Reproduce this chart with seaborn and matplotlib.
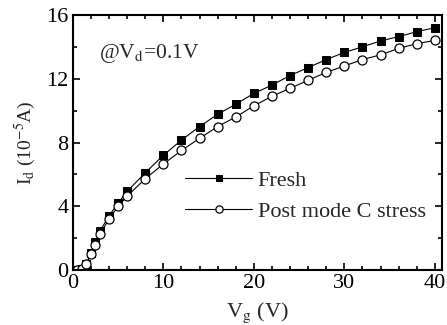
import matplotlib
matplotlib.use('Agg')
import matplotlib.pyplot as plt
import seaborn as sns
import pandas as pd
from matplotlib.ticker import MultipleLocator

# gate voltage (V) and drain current (1e-5 A)
vg = [0.5, 1, 1.5, 2, 2.5, 3, 4, 5, 6, 8, 10, 12, 14, 16, 18, 20,
      22, 24, 26, 28, 30, 32, 34, 36, 38, 40]
id_fresh = [0.0, 0.05, 0.4, 1.1, 1.75, 2.45, 3.4, 4.2, 4.94, 6.1, 7.2, 8.15,
            9.0, 9.77, 10.4, 11.08, 11.6, 12.2, 12.7, 13.2, 13.65, 14.0,
            14.37, 14.64, 14.95, 15.2]
id_post = [0.0, 0.05, 0.37, 1.0, 1.6, 2.26, 3.2, 4.0, 4.64, 5.73, 6.65, 7.5,
           8.26, 9.0, 9.6, 10.3, 10.9, 11.4, 11.9, 12.4, 12.8, 13.2, 13.5,
           13.9, 14.2, 14.4]

df = pd.DataFrame({'Vg': vg, 'Fresh': id_fresh, 'Post': id_post})

sns.set_style('ticks')
plt.rcParams['font.family'] = ['Liberation Serif', 'DejaVu Serif']
plt.rcParams['mathtext.fontset'] = 'stix'

fig = plt.figure(figsize=(4.47, 3.25), dpi=100)
ax = fig.add_axes([0.163, 0.169, 0.826, 0.785])

sns.lineplot(data=df, x='Vg', y='Fresh', ax=ax, color='k', lw=0.8,
             marker='s', markersize=6, markerfacecolor='k',
             markeredgecolor='k', label='Fresh')
sns.lineplot(data=df, x='Vg', y='Post', ax=ax, color='k', lw=0.8,
             marker='o', markersize=6.5, markerfacecolor='white',
             markeredgecolor='k', markeredgewidth=0.9,
             label='Post mode C stress')

ax.set_xlim(0, 40.8)
ax.set_ylim(0, 16)
ax.xaxis.set_major_locator(MultipleLocator(10))
ax.xaxis.set_minor_locator(MultipleLocator(2))
ax.yaxis.set_major_locator(MultipleLocator(4))
ax.yaxis.set_minor_locator(MultipleLocator(2))
ax.tick_params(which='both', direction='in', top=True, right=True,
               width=1.2, labelsize=16, colors='k')
ax.tick_params(which='major', length=5, pad=3)
ax.tick_params(which='minor', length=3)
for s in ax.spines.values():
    s.set_linewidth(1.5)
    s.set_color('k')

ax.set_xlabel(r'V$_\mathrm{g}$ (V)', fontsize=16, labelpad=5)
ax.set_ylabel(r'I$_\mathrm{d}$ (10$^{\mathrm{-5}}$A)', fontsize=14, labelpad=6)

ax.text(2.9, 13.6, r'@V$_\mathrm{d}$=0.1V', fontsize=15.5, ha='left', va='center')

ax.legend(loc='center left', bbox_to_anchor=(0.305, 0.29), frameon=False,
          fontsize=16, handlelength=3.0, handletextpad=0.25,
          labelspacing=0.45, borderpad=0, borderaxespad=0, markerscale=0.8)

fig.savefig('out.png', dpi=100)
